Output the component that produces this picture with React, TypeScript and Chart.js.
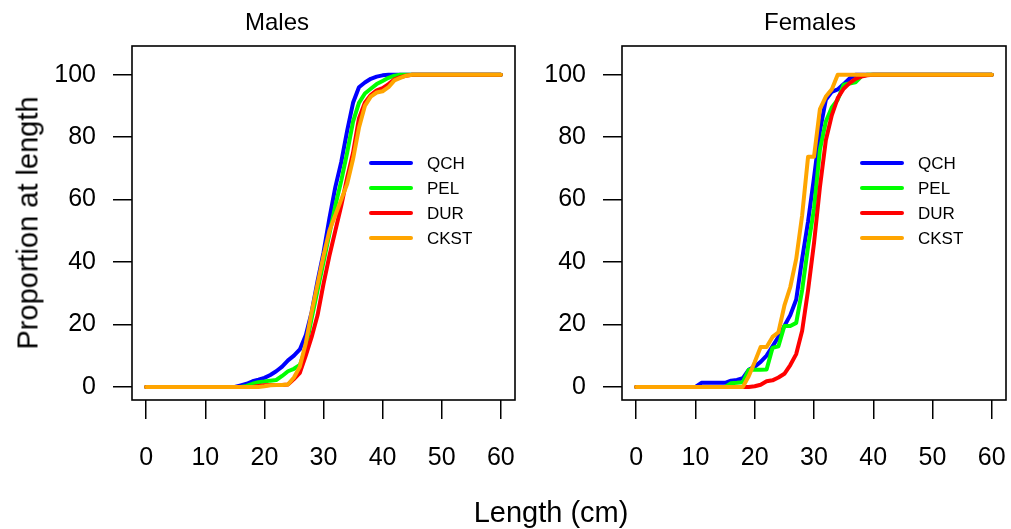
import React, { useEffect, useRef } from "react";
import { Chart, registerables } from "chart.js";

Chart.register(...registerables);

// ---- data ----
const seriesNames = ["QCH", "PEL", "DUR", "CKST"];
const seriesColors = ["#0000FF", "#00FF00", "#FF0000", "#FFA500"];
const xTickValues = [0, 10, 20, 30, 40, 50, 60];
const yTickValues = [0, 20, 40, 60, 80, 100];

// Males
const maleQCHLength = [0, 15, 16, 17, 18, 19, 20, 21, 22, 23, 24, 25, 26, 27, 28, 29, 30, 31, 32, 33, 34, 35, 36, 37, 38, 39, 40, 41, 60];
const maleQCHPct = [0, 0, 0.5, 1, 1.8, 2.3, 2.9, 3.8, 5, 6.5, 8.5, 10, 12, 16.5, 24, 34, 43, 54, 64, 72, 82, 91, 96, 97.5, 98.7, 99.4, 99.8, 100, 100];

const malePELLength = [0, 16, 17, 18, 19, 20, 21, 22, 23, 24, 25, 26, 27, 28, 29, 30, 31, 32, 33, 34, 35, 36, 37, 38, 39, 40, 41, 42, 43, 60];
const malePELPct = [0, 0, 0.3, 1, 1.5, 1.7, 2, 2.2, 3.5, 5, 5.8, 7, 12.5, 22, 31, 40, 49, 58, 66, 75, 85, 91, 94, 95.5, 97, 98, 99, 99.7, 100, 100];

const maleDURLength = [0, 18, 19, 20, 21, 22, 23, 24, 25, 26, 27, 28, 29, 30, 31, 32, 33, 34, 35, 36, 37, 38, 39, 40, 41, 42, 43, 44, 45, 60];
const maleDURPct = [0, 0, 0.3, 0.5, 0.6, 0.6, 0.6, 0.8, 2.5, 4.5, 10, 16, 23, 33, 42, 50, 58, 67, 75, 86, 91, 93.5, 95, 95.7, 97, 98.5, 99.2, 99.7, 100, 100];

const maleCKSTLength = [0, 19, 20, 21, 22, 23, 24, 25, 26, 27, 28, 29, 30, 31, 32, 33, 34, 35, 36, 37, 38, 39, 40, 41, 42, 43, 44, 45, 60];
const maleCKSTPct = [0, 0, 0.2, 0.5, 0.6, 0.6, 0.8, 3, 6.5, 14, 24, 33, 42, 50, 55, 60, 65, 73, 83, 90, 93, 94.3, 94.7, 96, 98.2, 99, 99.7, 100, 100];

// Females
const femaleQCHLength = [0, 10, 11, 12, 13, 14, 15, 16, 17, 18, 19, 20, 21, 22, 23, 24, 25, 26, 27, 28, 29, 30, 31, 32, 33, 34, 35, 36, 37, 60];
const femaleQCHPct = [0, 0, 1.3, 1.3, 1.3, 1.3, 1.3, 2, 2.2, 2.8, 5.5, 6.5, 8, 10, 13, 16, 19.5, 23, 28, 41, 53, 67, 82, 92, 94.5, 95.3, 97, 98.8, 100, 100];

const femalePELLength = [0, 15, 16, 17, 18, 19, 20, 21, 22, 23, 24, 25, 26, 27, 28, 29, 30, 31, 32, 33, 34, 35, 36, 37, 38, 39, 60];
const femalePELPct = [0, 0, 1.2, 1.3, 1.5, 5.5, 5.5, 5.5, 5.6, 12.5, 13, 19.5, 19.5, 20.5, 31, 45, 57, 76, 85, 89.5, 92, 96.8, 97.2, 97.6, 99.5, 100, 100];

const femaleDURLength = [0, 19, 20, 21, 22, 23, 24, 25, 26, 27, 28, 29, 30, 31, 32, 33, 34, 35, 36, 37, 38, 39, 40, 60];
const femaleDURPct = [0, 0, 0.2, 0.7, 1.8, 2.1, 3, 4.2, 7, 10.5, 18, 31, 46, 64, 79, 87, 92.5, 95.5, 97.3, 98.7, 99.4, 99.8, 100, 100];

const femaleCKSTLength = [0, 18, 19, 20, 21, 22, 23, 24, 25, 26, 27, 28, 29, 30, 31, 32, 33, 34, 60];
const femaleCKSTPct = [0, 0, 3.5, 8, 12.8, 12.8, 16, 17.5, 26, 32, 41, 55, 73.7, 73.7, 89, 93, 95.3, 100, 100];

const maleSeries = [
  [maleQCHLength, maleQCHPct],
  [malePELLength, malePELPct],
  [maleDURLength, maleDURPct],
  [maleCKSTLength, maleCKSTPct],
];
const femaleSeries = [
  [femaleQCHLength, femaleQCHPct],
  [femalePELLength, femalePELPct],
  [femaleDURLength, femaleDURPct],
  [femaleCKSTLength, femaleCKSTPct],
];

// ---- styling ----
const FONT = "'Liberation Sans', Arial, Helvetica, sans-serif";

function toPoints(xs: number[], ys: number[]) {
  return xs.map((x, i) => ({ x, y: ys[i] }));
}

const boxPlugin = {
  id: "rbox",
  afterDraw(chart: any) {
    const { ctx, chartArea: a } = chart;
    ctx.save();
    ctx.strokeStyle = "#000";
    ctx.lineWidth = 1.6;
    ctx.strokeRect(a.left, a.top, a.right - a.left, a.bottom - a.top);
    ctx.restore();
  },
};

const legendPlugin = {
  id: "rlegend",
  afterDatasetsDraw(chart: any, _args: any, opts: any) {
    const { ctx, chartArea: a } = chart;
    ctx.save();
    ctx.font = `17px ${FONT}`;
    ctx.textBaseline = "middle";
    ctx.textAlign = "left";
    chart.data.datasets.forEach((ds: any, i: number) => {
      const y = a.top + opts.dy + i * opts.rowGap;
      const x0 = a.left + opts.dx;
      ctx.strokeStyle = ds.borderColor;
      ctx.lineWidth = 4;
      ctx.lineCap = "round";
      ctx.beginPath();
      ctx.moveTo(x0, y);
      ctx.lineTo(x0 + 40, y);
      ctx.stroke();
      ctx.fillStyle = "#000";
      ctx.fillText(ds.label, x0 + 56, y + 1);
    });
    ctx.restore();
  },
};

function makeConfig(series: number[][][], yAxisWidth: number, legendDx: number) {
  return {
    type: "line",
    data: {
      datasets: series.map((s, i) => ({
        label: seriesNames[i],
        data: toPoints(s[0], s[1]),
        borderColor: seriesColors[i],
        backgroundColor: seriesColors[i],
        borderWidth: 4,
        pointRadius: 0,
        tension: 0,
        fill: false,
        order: 3 - i,
        borderJoinStyle: "round",
        borderCapStyle: "round",
      })),
    },
    options: {
      animation: false,
      responsive: false,
      maintainAspectRatio: false,
      layout: { padding: { left: 0, right: 5, top: 46, bottom: 0 } },
      plugins: {
        legend: { display: false },
        tooltip: { enabled: false },
        title: { display: false },
        rlegend: { dx: legendDx, dy: 117, rowGap: 25 },
      },
      scales: {
        x: {
          type: "linear",
          min: -2.4,
          max: 62.4,
          afterBuildTicks: (s: any) => {
            s.ticks = xTickValues.map((v) => ({ value: v }));
          },
          afterFit: (s: any) => {
            s.height = 129;
            s.paddingLeft = 0;
            s.paddingRight = 0;
          },
          grid: {
            drawOnChartArea: false,
            drawTicks: true,
            tickLength: 19,
            color: "#000",
            lineWidth: 1.5,
          },
          border: { display: false },
          ticks: {
            color: "#000",
            font: { family: FONT, size: 25 },
            padding: 24,
            maxRotation: 0,
            autoSkip: false,
          },
        },
        y: {
          type: "linear",
          min: -4.2,
          max: 109.2,
          afterBuildTicks: (s: any) => {
            s.ticks = yTickValues.map((v) => ({ value: v }));
          },
          afterFit: (s: any) => {
            s.width = yAxisWidth;
            s.paddingTop = 0;
            s.paddingBottom = 0;
          },
          grid: {
            drawOnChartArea: false,
            drawTicks: true,
            tickLength: 19,
            color: "#000",
            lineWidth: 1.5,
          },
          border: { display: false },
          ticks: {
            color: "#000",
            font: { family: FONT, size: 25 },
            padding: 17,
            autoSkip: false,
          },
        },
      },
    },
    plugins: [boxPlugin, legendPlugin],
  };
}

function Panel(props: { series: number[][][]; left: number; width: number; yAxisWidth: number; legendDx: number }) {
  const ref = useRef<HTMLCanvasElement | null>(null);
  useEffect(() => {
    if (!ref.current) return;
    const chart = new Chart(ref.current, makeConfig(props.series, props.yAxisWidth, props.legendDx) as any);
    return () => chart.destroy();
  }, []);
  return (
    <canvas
      ref={ref}
      width={props.width}
      height={529}
      style={{ position: "absolute", left: props.left, top: 0, width: props.width, height: 529, display: "block" }}
    />
  );
}

const textBase: React.CSSProperties = {
  position: "absolute",
  fontFamily: FONT,
  color: "#000",
  whiteSpace: "nowrap",
  lineHeight: 1,
};

export default function App() {
  return (
    <div style={{ position: "absolute", left: 0, top: 0, width: 1011, height: 529, background: "#fff", overflow: "hidden" }}>
      <Panel series={maleSeries} left={0} width={520} yAxisWidth={132} legendDx={239} />
      <Panel series={femaleSeries} left={520} width={491} yAxisWidth={102} legendDx={240} />
      <div style={{ ...textBase, fontSize: 24, left: 277, top: 22, transform: "translate(-50%, -50%)" }}>Males</div>
      <div style={{ ...textBase, fontSize: 24, left: 810, top: 22, transform: "translate(-50%, -50%)" }}>Females</div>
      <div style={{ ...textBase, fontSize: 29, left: 551, top: 512, transform: "translate(-50%, -50%)" }}>Length (cm)</div>
      <div style={{ ...textBase, fontSize: 29, left: 28, top: 223, transform: "translate(-50%, -50%) rotate(-90deg)" }}>
        Proportion at length
      </div>
    </div>
  );
}
